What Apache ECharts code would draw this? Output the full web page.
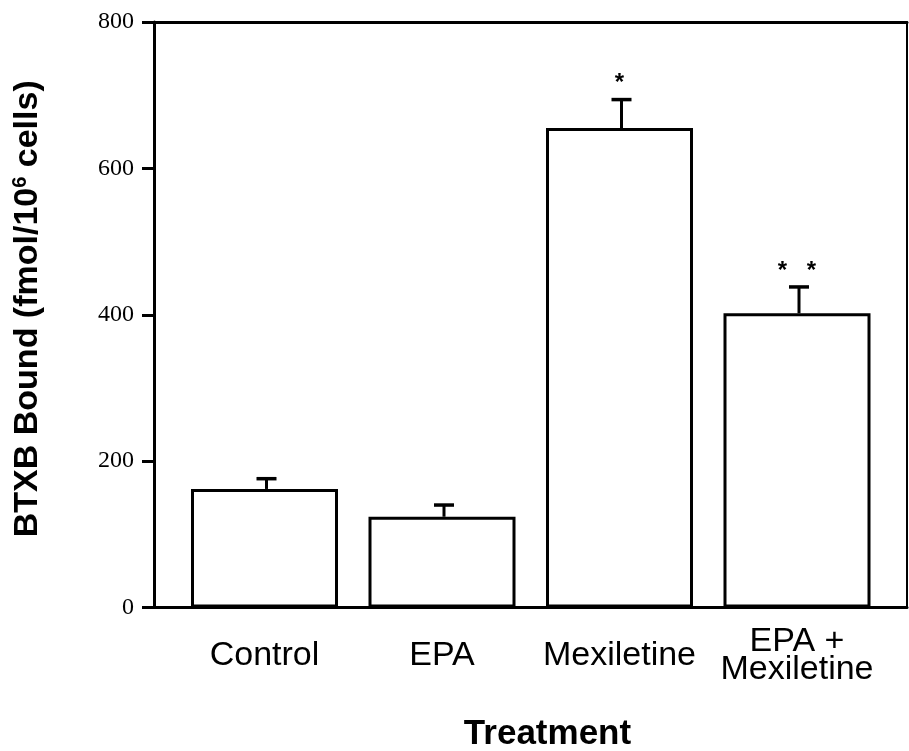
<!DOCTYPE html>
<html>
<head>
<meta charset="utf-8">
<script src="https://cdn.jsdelivr.net/npm/echarts@6/dist/echarts.min.js"></script>
<style>
html,body{margin:0;padding:0;background:#fff;overflow:hidden;}
#c{width:909px;height:751px;}
</style>
</head>
<body>
<div id="c"></div>
<script>
var categories = ['Control', 'EPA', 'Mexiletine', 'EPA +\nMexiletine'];
var values = [162, 124, 655, 402];
var errors = [14, 16, 39, 36];
var marks = ['', '', '*', '* *'];
var yMin = 0, yMax = 800, yInterval = 200;

var chart = echarts.init(document.getElementById('c'));
var errData = values.map(function (v, i) { return [i, v, errors[i]]; });

chart.setOption({
  animation: false,
  backgroundColor: '#fff',
  grid: [
    { left: 154, width: 753, top: 22, height: 585.5, containLabel: false, outerBoundsMode: 'none' },
    { left: 175.75, width: 710, top: 22, height: 585.5, containLabel: false, outerBoundsMode: 'none' }
  ],
  xAxis: [
    {
      gridIndex: 0, type: 'value', min: 0, max: 1, position: 'bottom',
      axisLine: { show: true, onZero: false, lineStyle: { color: '#000', width: 3 } },
      axisTick: { show: false }, axisLabel: { show: false }, splitLine: { show: false },
      name: 'Treatment', nameLocation: 'middle', nameGap: 127,
      nameTextStyle: { fontFamily: 'Liberation Sans', fontWeight: 'bold', fontSize: 35, color: '#000', verticalAlign: 'middle', padding: [0, 0, 0, 34] }
    },
    {
      gridIndex: 0, type: 'value', min: 0, max: 1, position: 'top',
      axisLine: { show: true, onZero: false, lineStyle: { color: '#000', width: 3 } },
      axisTick: { show: false }, axisLabel: { show: false }, splitLine: { show: false }
    },
    {
      gridIndex: 1, type: 'category', data: categories,
      axisLine: { show: false }, axisTick: { show: false },
      axisLabel: {
        show: true, interval: 0, margin: 48, verticalAlign: 'middle',
        fontFamily: 'Liberation Sans', fontSize: 34, color: '#000', lineHeight: 28
      }
    }
  ],
  yAxis: [
    {
      gridIndex: 0, type: 'value', min: yMin, max: yMax, interval: yInterval, position: 'left',
      axisLine: { show: true, onZero: false, lineStyle: { color: '#000', width: 3 } },
      axisTick: { show: true, length: 12, lineStyle: { color: '#000', width: 3 } },
      axisLabel: { fontFamily: 'Liberation Serif', fontSize: 24, color: '#000', margin: 20 },
      splitLine: { show: false },
      name: '{b|BTXB Bound (fmol/10}{s|6}{b| cells)}',
      nameLocation: 'middle', nameGap: 126, nameRotate: 90,
      nameTextStyle: {
        verticalAlign: 'middle',
        padding: [0, 0, 0, 12],
        rich: {
          b: { fontFamily: 'Liberation Sans', fontWeight: 'bold', fontSize: 34, color: '#000', lineHeight: 36 },
          s: { fontFamily: 'Liberation Sans', fontWeight: 'bold', fontSize: 20, color: '#000', verticalAlign: 'top', lineHeight: 36, padding: [0, 0, 14, 0] }
        }
      }
    },
    {
      gridIndex: 0, type: 'value', min: yMin, max: yMax, position: 'right',
      axisLine: { show: true, onZero: false, lineStyle: { color: '#000', width: 2 } },
      axisTick: { show: false }, axisLabel: { show: false }, splitLine: { show: false }
    },
    {
      gridIndex: 1, type: 'value', min: yMin, max: yMax, interval: yInterval, show: false
    }
  ],
  series: [
    {
      type: 'bar', xAxisIndex: 2, yAxisIndex: 2, data: values, barWidth: 147,
      itemStyle: { color: '#fff', borderColor: '#000', borderWidth: 3 },
      z: 2
    },
    {
      type: 'custom', xAxisIndex: 2, yAxisIndex: 2, data: errData, z: 3,
      renderItem: function (params, api) {
        var x = api.value(0), v = api.value(1), e = api.value(2);
        var base = api.coord([x, v]);
        var top = api.coord([x, v + e]);
        var cx = base[0] + 2;
        var children = [
          { type: 'line', shape: { x1: cx, y1: base[1], x2: cx, y2: top[1] }, style: { stroke: '#000', lineWidth: 3 } },
          { type: 'line', shape: { x1: cx - 10, y1: top[1], x2: cx + 10, y2: top[1] }, style: { stroke: '#000', lineWidth: 3.5 } }
        ];
        var stars = marks[params.dataIndex].split(' ').filter(function (s) { return s; });
        stars.forEach(function (s, k) {
          var off = (k - (stars.length - 1) / 2) * 29;
          children.push({
            type: 'text',
            style: {
              text: s, x: cx - 2 + off, y: top[1] - 4,
              fill: '#000', font: 'bold 24px "Liberation Sans"',
              align: 'center', verticalAlign: 'bottom'
            }
          });
        });
        return { type: 'group', children: children };
      }
    }
  ]
});
</script>
</body>
</html>
